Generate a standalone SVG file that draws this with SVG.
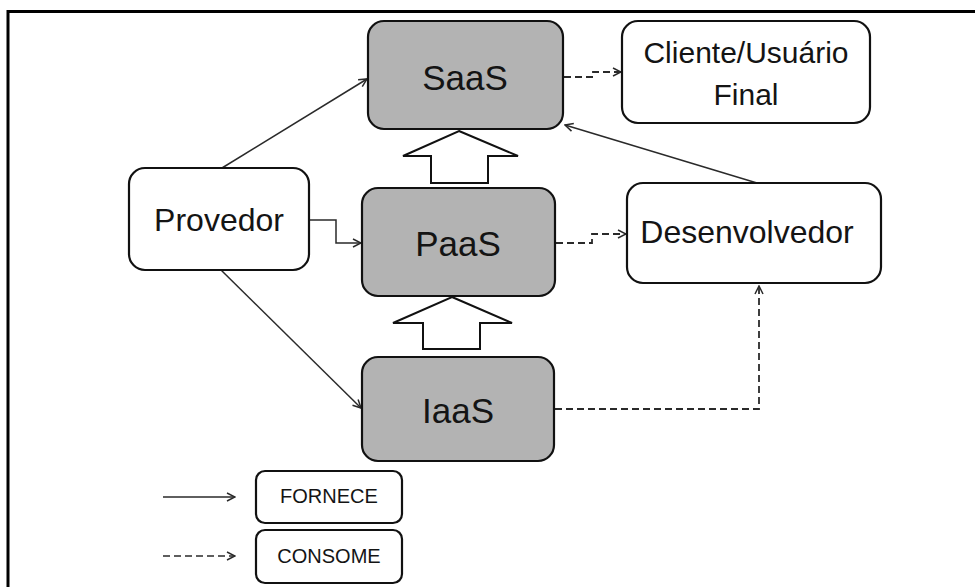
<svg xmlns="http://www.w3.org/2000/svg" width="975" height="587" viewBox="0 0 975 587">
<defs>
<style>
.box{stroke:#111;stroke-width:2.2;}
.w{fill:#fff;}
.g{fill:#b3b3b3;}
.t{font-family:"Liberation Sans",Arial,sans-serif;fill:#141414;text-anchor:middle;}
.c{fill:none;stroke:#2a2a2a;stroke-width:1.5;}
.d{stroke-dasharray:7,4;stroke-width:1.8;}
.hollow{fill:#fff;stroke:#111;stroke-width:2;}
</style>
<marker id="ah" viewBox="0 0 10 10" refX="9" refY="5" markerWidth="10" markerHeight="10" markerUnits="userSpaceOnUse" orient="auto">
<path d="M1,1 L9,5 L1,9" fill="none" stroke="#2a2a2a" stroke-width="1.5"/>
</marker>
</defs>
<rect width="975" height="587" fill="#fff"/>
<path d="M8,587 V11.5 H975" fill="none" stroke="#000" stroke-width="3"/>

<g id="connectors">
<path class="c" d="M222,168 L367,79" marker-end="url(#ah)"/>
<path class="c" d="M310,220 H336 V243 H361" marker-end="url(#ah)"/>
<path class="c" d="M221,270 L361,408" marker-end="url(#ah)"/>
<path class="c" d="M757,183 L565,125" marker-end="url(#ah)"/>
<path class="c d" d="M564,77 H593 V72 H621" marker-end="url(#ah)"/>
<path class="c d" d="M556,243 H592 V234 H626" marker-end="url(#ah)"/>
<path class="c d" d="M555,409 H759 V286" marker-end="url(#ah)"/>
<path class="c" d="M163,497 H235" marker-end="url(#ah)"/>
<path class="c d" d="M163,556 H235" style="stroke-width:1.5" marker-end="url(#ah)"/>
</g>

<g id="arrow-paas-saas">
<path class="hollow" d="M459,131 L518,156 H488 V183 H431 V156 H403 Z"/>
</g>
<g id="arrow-iaas-paas">
<path class="hollow" d="M452,297 L512,323 H480 V349 H423 V323 H393 Z"/>
</g>

<g id="saas">
<rect class="box g" x="368" y="21" width="195" height="108" rx="16"/>
<text class="t" x="465" y="90" font-size="35">SaaS</text>
</g>
<g id="cliente">
<rect class="box w" x="622" y="21" width="248" height="102" rx="16"/>
<text class="t" x="746" y="63" font-size="30">Cliente/Usuário</text>
<text class="t" x="746" y="105" font-size="30">Final</text>
</g>
<g id="provedor">
<rect class="box w" x="129" y="168" width="180" height="102" rx="16"/>
<text class="t" x="219" y="231" font-size="32">Provedor</text>
</g>
<g id="paas">
<rect class="box g" x="362" y="188" width="193" height="108" rx="16"/>
<text class="t" x="458" y="256" font-size="35">PaaS</text>
</g>
<g id="desenvolvedor">
<rect class="box w" x="627" y="183" width="254" height="100" rx="16"/>
<text class="t" x="747" y="243" font-size="32">Desenvolvedor</text>
</g>
<g id="iaas">
<rect class="box g" x="362" y="357" width="192" height="104" rx="16"/>
<text class="t" x="458" y="423" font-size="35">IaaS</text>
</g>
<g id="legend-fornece">
<rect class="box w" x="256" y="471" width="146" height="52" rx="9"/>
<text class="t" x="329" y="503" font-size="20">FORNECE</text>
</g>
<g id="legend-consome">
<rect class="box w" x="256" y="530" width="146" height="53" rx="9"/>
<text class="t" x="329" y="563" font-size="20">CONSOME</text>
</g>
</svg>
